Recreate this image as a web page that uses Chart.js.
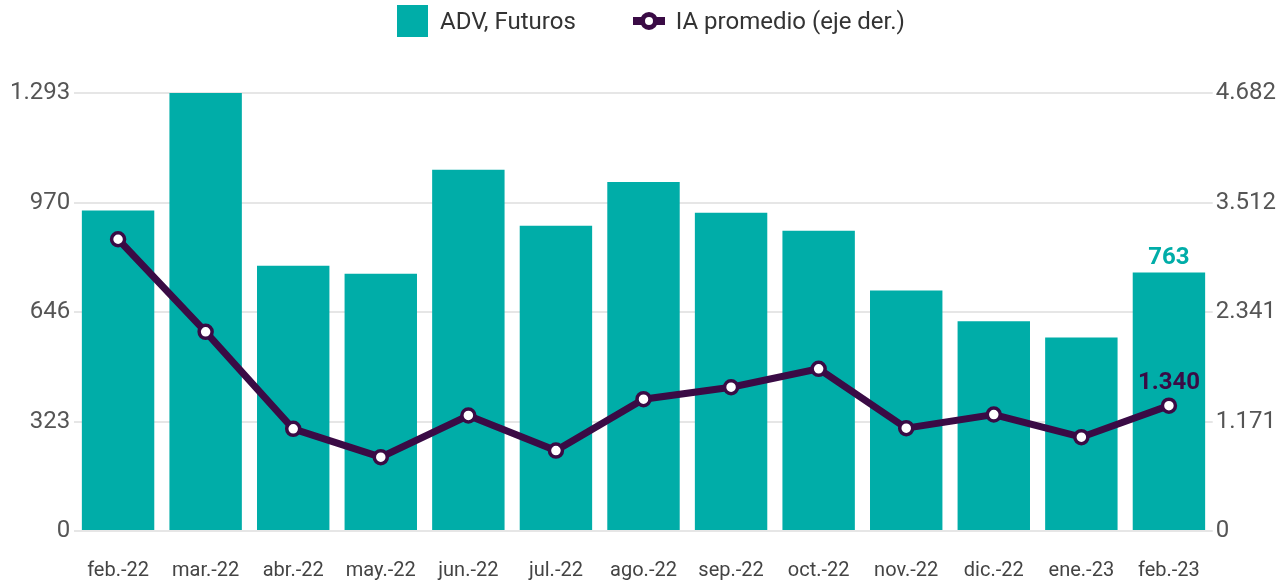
<!DOCTYPE html>
<html>
<head>
<meta charset="utf-8">
<script src="https://cdn.jsdelivr.net/npm/chart.js@4"></script>
<style>
  html, body { margin: 0; padding: 0; background: #fff; }
  #wrap { position: relative; width: 1284px; height: 583px; }
  #chart { position: absolute; left: 0; top: 0; }
  .legend { position: absolute; top: 5px; left: 397px; height: 32px; display: flex; align-items: center;
    font-family: Roboto, sans-serif; font-size: 24px; color: #333; }
  .legend .box { width: 31px; height: 32px; background: #00ADA8; margin-right: 12px; }
  .legend .mark { position: relative; width: 32px; height: 20px; margin-left: 57px; margin-right: 11px; }
  .legend .mark .ln { position: absolute; left: 0; right: 0; top: 6px; height: 8px; background: #3A0B45; }
  .legend .mark .dot { position: absolute; left: 7px; top: 1px; width: 8px; height: 8px; border: 5px solid #3A0B45;
    background: #fff; border-radius: 50%; }
</style>
</head>
<body>
<div id="wrap">
  <canvas id="chart" width="1284" height="583"></canvas>
  <div class="legend">
    <span class="box"></span><span>ADV, Futuros</span>
    <span class="mark"><span class="ln"></span><span class="dot"></span></span><span>IA promedio (eje der.)</span>
  </div>
</div>
<script>
const months = ['feb.-22', 'mar.-22', 'abr.-22', 'may.-22', 'jun.-22', 'jul.-22', 'ago.-22',
  'sep.-22', 'oct.-22', 'nov.-22', 'dic.-22', 'ene.-23', 'feb.-23'];
const advFuturos = [946, 1292.8, 783, 759, 1066, 901, 1030, 939, 886, 710, 619, 571, 763];
const iaPromedio = [3119, 2129, 1092, 789, 1235, 860, 1409, 1537, 1734, 1099, 1245, 1003, 1340];

const leftMax = 1292.8;
const rightMax = 4682.4;
const leftTicks = ['0', '323', '646', '970', '1.293'];
const rightTicks = ['0', '1.171', '2.341', '3.512', '4.682'];

const teal = '#00ADA8';
const purple = '#3A0B45';
const tickFont = { family: 'Roboto', size: 24 };

function fmt(v) {
  return Math.round(v).toLocaleString('de-DE');
}

function quarterTicks(max) {
  return (scale) => {
    scale.ticks = [0, 1, 2, 3, 4].map(i => ({ value: max * i / 4 }));
  };
}

// labels on the last bar and last point
const lastLabels = {
  id: 'lastLabels',
  afterDatasetsDraw(chart) {
    const ctx = chart.ctx;
    const last = months.length - 1;
    const bar = chart.getDatasetMeta(0).data[last];
    const pt = chart.getDatasetMeta(1).data[last];
    ctx.save();
    ctx.font = 'bold 24px Roboto';
    ctx.textAlign = 'center';
    ctx.textBaseline = 'alphabetic';
    ctx.fillStyle = teal;
    ctx.fillText(fmt(advFuturos[last]), bar.x, bar.y - 8);
    ctx.fillStyle = purple;
    ctx.fillText(fmt(iaPromedio[last]), pt.x, pt.y - 17);
    ctx.restore();
  }
};

const ctx = document.getElementById('chart').getContext('2d');
new Chart(ctx, {
  data: {
    labels: months,
    datasets: [{
      type: 'bar',
      label: 'ADV, Futuros',
      data: advFuturos,
      backgroundColor: teal,
      categoryPercentage: 1,
      barPercentage: 0.827,
      yAxisID: 'y',
      order: 1
    }, {
      type: 'line',
      label: 'IA promedio (eje der.)',
      data: iaPromedio,
      borderColor: purple,
      borderWidth: 7,
      pointRadius: 6.5,
      pointBorderWidth: 3.5,
      pointBackgroundColor: '#fff',
      pointBorderColor: purple,
      tension: 0,
      yAxisID: 'y1',
      order: 0
    }]
  },
  options: {
    responsive: false,
    animation: false,
    layout: { padding: { top: 93, left: 6, right: 5, bottom: 0 } },
    plugins: {
      legend: { display: false },
      tooltip: { enabled: false }
    },
    scales: {
      x: {
        grid: { display: false, drawTicks: false },
        border: { display: false },
        ticks: { font: { family: 'Roboto', size: 20 }, color: '#444', padding: 28, maxRotation: 0, autoSkip: false },
        afterFit: (s) => { s.height = 52; }
      },
      y: {
        position: 'left',
        min: 0,
        max: leftMax,
        afterBuildTicks: quarterTicks(leftMax),
        grid: { color: '#e6e6e6', lineWidth: 2, drawTicks: false },
        border: { display: false },
        ticks: { font: tickFont, color: '#555', padding: 4, callback: (v, i) => leftTicks[i] }
      },
      y1: {
        position: 'right',
        min: 0,
        max: rightMax,
        afterBuildTicks: quarterTicks(rightMax),
        grid: { display: false, drawTicks: false },
        border: { display: false },
        ticks: { font: tickFont, color: '#555', padding: 3, callback: (v, i) => rightTicks[i] }
      }
    }
  },
  plugins: [lastLabels]
});
</script>
</body>
</html>
